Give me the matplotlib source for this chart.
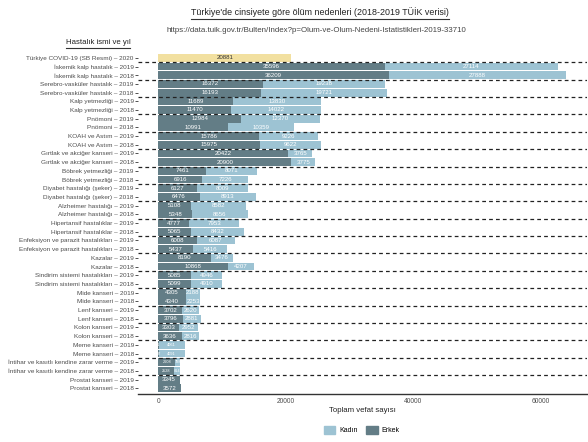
import matplotlib
matplotlib.use("Agg")
import matplotlib.pyplot as plt
from matplotlib.patches import Patch
from matplotlib.lines import Line2D
import numpy as np

plt.rcParams['font.family'] = ['Liberation Sans', 'DejaVu Sans']

diseases = ["İskemik kalp hastalık", "Serebro-vasküler hastalık", "Kalp yetmezliği",
            "Pnömoni", "KOAH ve Astım", "Gırtlak ve akciğer kanseri", "Böbrek yetmezliği",
            "Diyabet hastalığı (şeker)", "Alzheimer hastalığı", "Hipertansif hastalıklar",
            "Enfeksiyon ve parazit hastalıkları", "Kazalar", "Sindirim sistemi hastalıkları",
            "Mide kanseri", "Lenf kanseri", "Kolon kanseri", "Meme kanseri",
            "İntihar ve kasıtlı kendine zarar verme", "Prostat kanseri"]
years = ["2019", "2018"]

# disease-major, 2019 then 2018
erkek = [35596, 36209, 16372, 16193, 11689, 11470, 12984, 10991, 15786, 15975,
         20422, 20900, 7461, 6916, 6127, 6476, 5108, 5348, 4777, 5065,
         6008, 5437, 8190, 10868, 5085, 5099, 4305, 4340, 3702, 3796,
         3303, 3636, 41, 37, 2608, 2528, 3345, 3572]
kadin = [27114, 27888, 19238, 19721, 13830, 14022, 12370, 10359, 9226, 9622,
         3765, 3775, 8071, 7226, 8009, 8913, 8582, 8656, 7953, 8432,
         6087, 5416, 3476, 4207, 4946, 4910, 2188, 2253, 2620, 2881,
         2952, 2816, 4061, 4091, 798, 814, 0, 0]

covid_label = "Türkiye COVID-19 (SB Resmi) – 2020"
covid_value = 20881

labels = [covid_label] + [f"{d} – {y}" for d in diseases for y in years]

c_dark = "#637d86"
c_light = "#9dc3d3"
c_covid = "#f2e0a0"

fig = plt.figure(figsize=(5.88, 4.42), dpi=100)
ax = fig.add_axes([0.2347, 0.1097, 0.7633, 0.7713])

pos = np.arange(1, len(erkek) + 1)
h = 0.9
ax.barh([0], [covid_value], height=h, color=c_covid)
ax.barh(pos, erkek, height=h, color=c_dark)
ax.barh(pos, kadin, height=h, left=erkek, color=c_light)

fs_val = 4.4
ax.text(covid_value / 2, 0, str(covid_value), ha='center', va='center',
        fontsize=fs_val, color='#333333')
for p, e, k in zip(pos, erkek, kadin):
    small = k > 0 and min(e, k) < 1000
    fs = 2.8 if small else fs_val
    if e > 0:
        ax.text(e / 2, p, str(e), ha='center', va='center', fontsize=fs, color='white')
    if k > 0:
        ax.text(e + k / 2, p, str(k), ha='center', va='center', fontsize=fs, color='white')

for yline in np.arange(0, len(labels) - 2, 2) + 0.5:
    ax.axhline(yline, color='#222222', lw=0.9, ls=(0, (3, 2.5)), zorder=5)

totals = np.array(erkek) + np.array(kadin)
xmax = totals.max()
ax.set_xlim(-0.05 * xmax, 1.05 * xmax)
ax.set_ylim(len(labels) - 1 + 0.6, -0.6)
ax.set_yticks(np.arange(len(labels)))
ax.set_yticklabels(labels)
ax.set_xticks([0, 20000, 40000, 60000])
ax.tick_params(axis='y', labelsize=4.6, labelcolor='#4d4d4d', length=2, width=0.6,
               color='#333333', pad=1)
ax.tick_params(axis='x', labelsize=4.8, labelcolor='#4d4d4d', length=0, pad=3)
for s in ['top', 'right', 'left']:
    ax.spines[s].set_visible(False)
ax.spines['bottom'].set_color('#333333')
ax.spines['bottom'].set_linewidth(1.0)
ax.set_xlabel("Toplam vefat sayısı", fontsize=5.6, color='#222222', labelpad=2)

t1 = fig.text(320 / 588, 1 - 12.5 / 442, "Türkiye'de cinsiyete göre ölüm nedenleri (2018-2019 TÜİK verisi)",
              ha='center', va='center', fontsize=6.4, color='#222222')
fig.text(316 / 588, 1 - 30 / 442, "https://data.tuik.gov.tr/Bulten/Index?p=Olum-ve-Olum-Nedeni-Istatistikleri-2019-33710",
         ha='center', va='center', fontsize=5.7, color='#444444')
t2 = fig.text(98 / 588, 1 - 43 / 442, "Hastalık ismi ve yıl", ha='center', va='center',
              fontsize=5.6, color='#222222')

handles = [Patch(color=c_light, label="Kadın"), Patch(color=c_dark, label="Erkek")]
fig.legend(handles=handles, loc='center', bbox_to_anchor=(362 / 588, 1 - 430 / 442),
           ncol=2, frameon=False, fontsize=5, handlelength=1.6, handleheight=1.6,
           columnspacing=1.2, handletextpad=0.6)

# underline the title and the y title
fig.canvas.draw()
r = fig.canvas.get_renderer()
for t in [t1, t2]:
    bb = t.get_window_extent(r)
    fig.add_artist(Line2D([bb.x0, bb.x1], [bb.y0 - 1.5, bb.y0 - 1.5], color='#333333',
                          lw=0.8, transform=None))

fig.savefig("out.png", dpi=100)
